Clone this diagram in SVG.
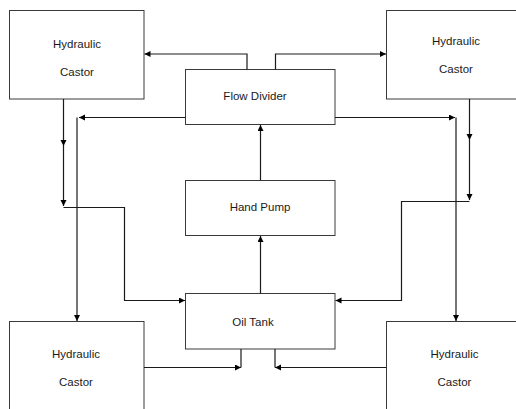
<svg xmlns="http://www.w3.org/2000/svg" width="516" height="409" viewBox="0 0 516 409">
<defs>
<style>
.box{fill:#fff;stroke:#3a3a3a;stroke-width:1}
.lbl{font-family:"Liberation Sans",Arial,sans-serif;font-size:11.5px;fill:#1a1a1a;text-anchor:middle}
.ln{fill:none;stroke:#1a1a1a;stroke-width:1.2}
.ar{marker-end:url(#ah)}
</style>
<marker id="ah" markerUnits="userSpaceOnUse" markerWidth="7" markerHeight="7" refX="6" refY="3" orient="auto">
<path d="M0,0 L6,3 L0,6 z" fill="#000"/>
</marker>
</defs>
<rect width="516" height="409" fill="#fff"/>
<g id="castor-tl"><rect class="box" x="9.5" y="10.5" width="134.5" height="88.5"/><text class="lbl" x="77" y="48">Hydraulic</text><text class="lbl" x="77" y="76">Castor</text></g>
<g id="castor-tr"><rect class="box" x="386.5" y="10.5" width="140" height="88.5"/><text class="lbl" x="456" y="44.5">Hydraulic</text><text class="lbl" x="456" y="73">Castor</text></g>
<g id="flow-divider"><rect class="box" x="185.5" y="69.5" width="149.5" height="55"/><text class="lbl" x="255" y="100">Flow Divider</text></g>
<g id="hand-pump"><rect class="box" x="185.5" y="180.5" width="149.5" height="55"/><text class="lbl" x="260" y="211">Hand Pump</text></g>
<g id="oil-tank"><rect class="box" x="185.5" y="293.5" width="149.5" height="55.5"/><text class="lbl" x="253" y="326">Oil Tank</text></g>
<g id="castor-bl"><rect class="box" x="9.5" y="321.5" width="134.5" height="100"/><text class="lbl" x="76" y="358">Hydraulic</text><text class="lbl" x="76" y="386">Castor</text></g>
<g id="castor-br"><rect class="box" x="386.5" y="321.5" width="140" height="100"/><text class="lbl" x="454.5" y="358">Hydraulic</text><text class="lbl" x="454.5" y="386">Castor</text></g>
<g id="connectors">
<path class="ln ar" d="M247,69.5 V54 H144.5"/>
<path class="ln ar" d="M275.5,69.5 V54 H386"/>
<path class="ln ar" d="M185.5,117.5 H79"/>
<path class="ln ar" d="M77,117.5 V321"/>
<path class="ln ar" d="M335,117.5 H455"/>
<path class="ln ar" d="M456,117.5 V321"/>
<path class="ln ar" d="M63.5,99 V146"/>
<path class="ln ar" d="M63.5,146 V206"/>
<path class="ln ar" d="M63.5,207.5 H124.5 V300.5 H185"/>
<path class="ln ar" d="M469.5,99 V140"/>
<path class="ln ar" d="M469.5,140 V200"/>
<path class="ln ar" d="M469.5,201.5 H401.5 V300.5 H335.5"/>
<path class="ln ar" d="M260.5,180.5 V125"/>
<path class="ln ar" d="M260.5,293.5 V236"/>
<path class="ln ar" d="M144,367.5 H241"/>
<path class="ln" d="M241,349 V367.5"/>
<path class="ln ar" d="M386.5,367.5 H275"/>
<path class="ln" d="M275,349 V367.5"/>
</g>
</svg>
